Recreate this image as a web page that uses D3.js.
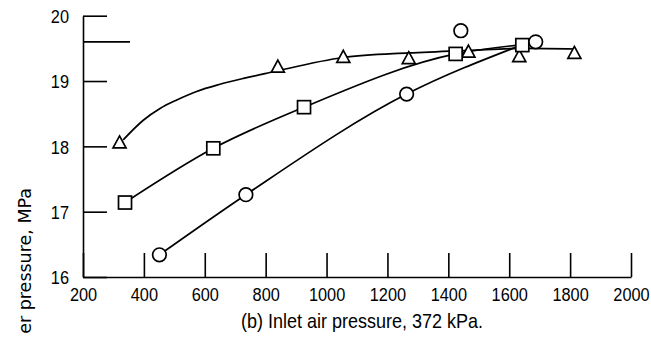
<html>
  <head>
    <title>combustor pressure</title>
    <script src="https://d3js.org/d3.v7.min.js"></script>
    <style>
      body { margin: 0; background: #fff; }
      text { fill: #000; }
    </style>
  </head>

  <body>
    <div id='wrapper'>
      <script>
        // data (x: kPa, y: MPa)
        var triangleX = [320, 840, 1055, 1270, 1466, 1633, 1814];
        var triangleY = [18.06, 19.22, 19.37, 19.35, 19.45, 19.38, 19.43];
        var squareX = [338, 628, 926, 1424, 1643];
        var squareY = [17.14, 17.97, 18.6, 19.415, 19.55];
        var circleX = [451, 735, 1263, 1441, 1687];
        var circleY = [16.34, 17.26, 18.8, 19.77, 19.6];

        // faired curves drawn through the points
        var triangleFitX = [332, 398, 453, 508, 573, 650, 727, 814, 1055, 1270, 1470, 1650, 1820];
        var triangleFitY = [18.10, 18.40, 18.58, 18.71, 18.84, 18.95, 19.04, 19.13, 19.36, 19.43, 19.47, 19.5, 19.49];
        var squareFitX = [338, 628, 926, 1424, 1650];
        var squareFitY = [17.14, 17.97, 18.6, 19.415, 19.56];
        var circleFitX = [451, 735, 1263, 1640];
        var circleFitY = [16.34, 17.26, 18.8, 19.55];

        var xTicks = [200, 400, 600, 800, 1000, 1200, 1400, 1600, 1800, 2000];
        var yTicks = [16, 17, 18, 19, 20];
        var xTitle = "(b) Inlet air pressure, 372 kPa.";
        var yTitle = "er pressure, MPa";

        var W = 651, H = 343;
        var squeeze = 0.86; // condensed look for the tick labels
        var svg = d3.select("#wrapper").append("svg")
          .attr("width", W).attr("height", H);

        var x = d3.scaleLinear().domain([200, 2000]).range([83, 631]);
        var y = d3.scaleLinear().domain([16, 20]).range([277, 15.7]);

        var tickFont = "'Liberation Sans', Arial, sans-serif";

        // x axis, ticks pointing up
        var gx = svg.append("g")
          .attr("transform", "translate(0,277)")
          .call(d3.axisBottom(x).tickValues(xTicks).tickFormat(d3.format("d"))
                .tickSizeInner(-24).tickSizeOuter(0).tickPadding(11));
        // y axis, ticks pointing right
        var gy = svg.append("g")
          .attr("transform", "translate(83,0)")
          .call(d3.axisLeft(y).tickValues(yTicks).tickFormat(d3.format("d"))
                .tickSizeInner(-24).tickSizeOuter(0).tickPadding(14));

        [gx, gy].forEach(function(g) {
          g.attr("font-family", null).attr("font-size", null);
          g.selectAll("path, line").attr("stroke", "#000").attr("stroke-width", 1.6);
          g.selectAll("text")
            .style("font-family", tickFont).style("font-size", "19px")
            .attr("fill", "#000")
            .attr("transform", "scale(" + squeeze + ",1)");
        });
        gy.selectAll("text").attr("x", -14 / squeeze).attr("dy", "0.36em");

        // stray long tick near the top of the y axis
        svg.append("line")
          .attr("x1", x(200)).attr("x2", x(200) + 47)
          .attr("y1", y(19.6)).attr("y2", y(19.6))
          .attr("stroke", "#000").attr("stroke-width", 1.6);

        svg.append("text")
          .attr("transform", "translate(362,328) scale(0.9,1)")
          .style("text-anchor", "middle")
          .style("font-family", tickFont).style("font-size", "20px")
          .text(xTitle);

        svg.append("text")
          .attr("transform", "translate(31,188) rotate(-90)")
          .style("text-anchor", "end")
          .style("font-family", "'DejaVu Sans', sans-serif").style("font-size", "17.5px")
          .text(yTitle);

        var line = d3.line()
          .x(function(d) { return x(d[0]); })
          .y(function(d) { return y(d[1]); })
          .curve(d3.curveMonotoneX);

        function drawFit(xs, ys) {
          svg.append("path")
            .datum(d3.zip(xs, ys))
            .attr("d", line)
            .attr("fill", "none")
            .attr("stroke", "#000")
            .attr("stroke-width", 1.7);
        }
        drawFit(triangleFitX, triangleFitY);
        drawFit(squareFitX, squareFitY);
        drawFit(circleFitX, circleFitY);

        var markStyle = function(sel) {
          sel.attr("fill", "#fff").attr("stroke", "#000").attr("stroke-width", 1.7);
        };

        svg.selectAll(".tri").data(d3.zip(triangleX, triangleY)).enter()
          .append("path")
          .attr("transform", function(d) { return "translate(" + x(d[0]) + "," + y(d[1]) + ")"; })
          .attr("d", "M0,-6.5L6.5,5.5L-6.5,5.5Z")
          .call(markStyle);

        svg.selectAll(".sq").data(d3.zip(squareX, squareY)).enter()
          .append("rect")
          .attr("x", function(d) { return x(d[0]) - 6.5; })
          .attr("y", function(d) { return y(d[1]) - 6.5; })
          .attr("width", 13).attr("height", 13)
          .call(markStyle);

        svg.selectAll(".ci").data(d3.zip(circleX, circleY)).enter()
          .append("circle")
          .attr("cx", function(d) { return x(d[0]); })
          .attr("cy", function(d) { return y(d[1]); })
          .attr("r", 6.8)
          .call(markStyle);
      </script>
    </div>
  </body>
</html>
